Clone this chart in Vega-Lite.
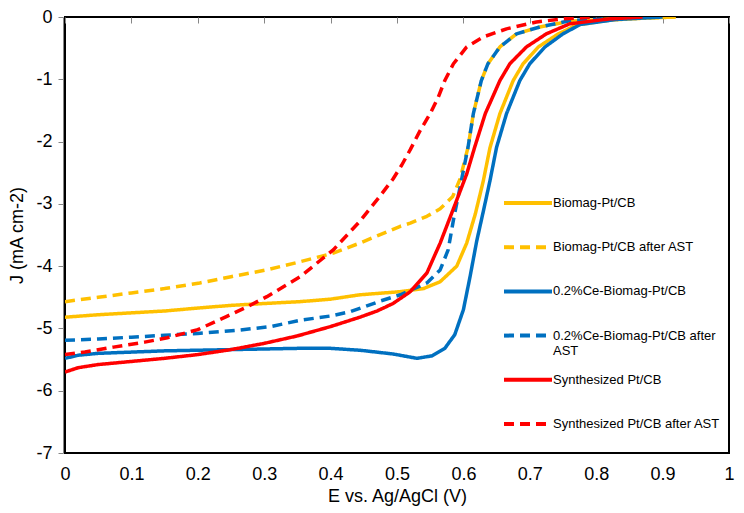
{
  "$schema": "https://vega.github.io/schema/vega-lite/v6.json",
  "width": 664,
  "height": 436,
  "autosize": "none",
  "padding": {"left": 65, "top": 17, "right": 15, "bottom": 60},
  "background": "white",
  "config": {
    "font": "Liberation Sans",
    "view": {"stroke": "#000000", "strokeWidth": 2}
  },
  "data": {"values": [
    {"s":"Biomag-Pt/CB","x":0,"y":-4.82},{"s":"Biomag-Pt/CB","x":0.05,"y":-4.78},{"s":"Biomag-Pt/CB","x":0.1,"y":-4.75},{"s":"Biomag-Pt/CB","x":0.15,"y":-4.72},{"s":"Biomag-Pt/CB","x":0.203,"y":-4.67},{"s":"Biomag-Pt/CB","x":0.25,"y":-4.63},{"s":"Biomag-Pt/CB","x":0.3,"y":-4.6},{"s":"Biomag-Pt/CB","x":0.354,"y":-4.57},{"s":"Biomag-Pt/CB","x":0.4,"y":-4.53},{"s":"Biomag-Pt/CB","x":0.444,"y":-4.46},{"s":"Biomag-Pt/CB","x":0.505,"y":-4.41},{"s":"Biomag-Pt/CB","x":0.54,"y":-4.36},{"s":"Biomag-Pt/CB","x":0.565,"y":-4.25},{"s":"Biomag-Pt/CB","x":0.59,"y":-4.0},{"s":"Biomag-Pt/CB","x":0.605,"y":-3.63},{"s":"Biomag-Pt/CB","x":0.618,"y":-3.16},{"s":"Biomag-Pt/CB","x":0.63,"y":-2.63},{"s":"Biomag-Pt/CB","x":0.64,"y":-2.1},{"s":"Biomag-Pt/CB","x":0.655,"y":-1.55},{"s":"Biomag-Pt/CB","x":0.675,"y":-1.02},{"s":"Biomag-Pt/CB","x":0.69,"y":-0.75},{"s":"Biomag-Pt/CB","x":0.713,"y":-0.48},{"s":"Biomag-Pt/CB","x":0.743,"y":-0.27},{"s":"Biomag-Pt/CB","x":0.77,"y":-0.13},{"s":"Biomag-Pt/CB","x":0.82,"y":-0.05},{"s":"Biomag-Pt/CB","x":0.87,"y":-0.02},{"s":"Biomag-Pt/CB","x":0.92,"y":0},

    {"s":"Biomag-Pt/CB after AST","x":0,"y":-4.57},{"s":"Biomag-Pt/CB after AST","x":0.05,"y":-4.5},{"s":"Biomag-Pt/CB after AST","x":0.1,"y":-4.43},{"s":"Biomag-Pt/CB after AST","x":0.15,"y":-4.36},{"s":"Biomag-Pt/CB after AST","x":0.203,"y":-4.27},{"s":"Biomag-Pt/CB after AST","x":0.25,"y":-4.17},{"s":"Biomag-Pt/CB after AST","x":0.304,"y":-4.06},{"s":"Biomag-Pt/CB after AST","x":0.354,"y":-3.93},{"s":"Biomag-Pt/CB after AST","x":0.404,"y":-3.79},{"s":"Biomag-Pt/CB after AST","x":0.444,"y":-3.63},{"s":"Biomag-Pt/CB after AST","x":0.505,"y":-3.36},{"s":"Biomag-Pt/CB after AST","x":0.52,"y":-3.31},{"s":"Biomag-Pt/CB after AST","x":0.545,"y":-3.2},{"s":"Biomag-Pt/CB after AST","x":0.565,"y":-3.08},{"s":"Biomag-Pt/CB after AST","x":0.584,"y":-2.88},{"s":"Biomag-Pt/CB after AST","x":0.595,"y":-2.6},{"s":"Biomag-Pt/CB after AST","x":0.607,"y":-2.09},{"s":"Biomag-Pt/CB after AST","x":0.615,"y":-1.55},{"s":"Biomag-Pt/CB after AST","x":0.627,"y":-1.02},{"s":"Biomag-Pt/CB after AST","x":0.637,"y":-0.75},{"s":"Biomag-Pt/CB after AST","x":0.655,"y":-0.48},{"s":"Biomag-Pt/CB after AST","x":0.68,"y":-0.27},{"s":"Biomag-Pt/CB after AST","x":0.715,"y":-0.16},{"s":"Biomag-Pt/CB after AST","x":0.76,"y":-0.07},{"s":"Biomag-Pt/CB after AST","x":0.84,"y":-0.02},{"s":"Biomag-Pt/CB after AST","x":0.92,"y":0},

    {"s":"0.2%Ce-Biomag-Pt/CB","x":0,"y":-5.48},{"s":"0.2%Ce-Biomag-Pt/CB","x":0.02,"y":-5.43},{"s":"0.2%Ce-Biomag-Pt/CB","x":0.05,"y":-5.4},{"s":"0.2%Ce-Biomag-Pt/CB","x":0.1,"y":-5.38},{"s":"0.2%Ce-Biomag-Pt/CB","x":0.15,"y":-5.36},{"s":"0.2%Ce-Biomag-Pt/CB","x":0.2,"y":-5.35},{"s":"0.2%Ce-Biomag-Pt/CB","x":0.25,"y":-5.34},{"s":"0.2%Ce-Biomag-Pt/CB","x":0.3,"y":-5.33},{"s":"0.2%Ce-Biomag-Pt/CB","x":0.35,"y":-5.32},{"s":"0.2%Ce-Biomag-Pt/CB","x":0.4,"y":-5.32},{"s":"0.2%Ce-Biomag-Pt/CB","x":0.444,"y":-5.35},{"s":"0.2%Ce-Biomag-Pt/CB","x":0.494,"y":-5.41},{"s":"0.2%Ce-Biomag-Pt/CB","x":0.53,"y":-5.48},{"s":"0.2%Ce-Biomag-Pt/CB","x":0.553,"y":-5.44},{"s":"0.2%Ce-Biomag-Pt/CB","x":0.572,"y":-5.32},{"s":"0.2%Ce-Biomag-Pt/CB","x":0.587,"y":-5.1},{"s":"0.2%Ce-Biomag-Pt/CB","x":0.6,"y":-4.7},{"s":"0.2%Ce-Biomag-Pt/CB","x":0.61,"y":-4.17},{"s":"0.2%Ce-Biomag-Pt/CB","x":0.62,"y":-3.6},{"s":"0.2%Ce-Biomag-Pt/CB","x":0.63,"y":-3.12},{"s":"0.2%Ce-Biomag-Pt/CB","x":0.64,"y":-2.63},{"s":"0.2%Ce-Biomag-Pt/CB","x":0.65,"y":-2.09},{"s":"0.2%Ce-Biomag-Pt/CB","x":0.665,"y":-1.55},{"s":"0.2%Ce-Biomag-Pt/CB","x":0.685,"y":-1.02},{"s":"0.2%Ce-Biomag-Pt/CB","x":0.7,"y":-0.75},{"s":"0.2%Ce-Biomag-Pt/CB","x":0.723,"y":-0.48},{"s":"0.2%Ce-Biomag-Pt/CB","x":0.75,"y":-0.27},{"s":"0.2%Ce-Biomag-Pt/CB","x":0.776,"y":-0.12},{"s":"0.2%Ce-Biomag-Pt/CB","x":0.83,"y":-0.04},{"s":"0.2%Ce-Biomag-Pt/CB","x":0.9,"y":0},

    {"s":"0.2%Ce-Biomag-Pt/CB after AST","x":0,"y":-5.19},{"s":"0.2%Ce-Biomag-Pt/CB after AST","x":0.05,"y":-5.17},{"s":"0.2%Ce-Biomag-Pt/CB after AST","x":0.1,"y":-5.14},{"s":"0.2%Ce-Biomag-Pt/CB after AST","x":0.15,"y":-5.11},{"s":"0.2%Ce-Biomag-Pt/CB after AST","x":0.2,"y":-5.08},{"s":"0.2%Ce-Biomag-Pt/CB after AST","x":0.26,"y":-5.03},{"s":"0.2%Ce-Biomag-Pt/CB after AST","x":0.31,"y":-4.97},{"s":"0.2%Ce-Biomag-Pt/CB after AST","x":0.354,"y":-4.87},{"s":"0.2%Ce-Biomag-Pt/CB after AST","x":0.4,"y":-4.8},{"s":"0.2%Ce-Biomag-Pt/CB after AST","x":0.43,"y":-4.73},{"s":"0.2%Ce-Biomag-Pt/CB after AST","x":0.449,"y":-4.66},{"s":"0.2%Ce-Biomag-Pt/CB after AST","x":0.475,"y":-4.56},{"s":"0.2%Ce-Biomag-Pt/CB after AST","x":0.505,"y":-4.46},{"s":"0.2%Ce-Biomag-Pt/CB after AST","x":0.545,"y":-4.27},{"s":"0.2%Ce-Biomag-Pt/CB after AST","x":0.565,"y":-4.06},{"s":"0.2%Ce-Biomag-Pt/CB after AST","x":0.577,"y":-3.74},{"s":"0.2%Ce-Biomag-Pt/CB after AST","x":0.586,"y":-3.2},{"s":"0.2%Ce-Biomag-Pt/CB after AST","x":0.596,"y":-2.68},{"s":"0.2%Ce-Biomag-Pt/CB after AST","x":0.607,"y":-2.09},{"s":"0.2%Ce-Biomag-Pt/CB after AST","x":0.615,"y":-1.55},{"s":"0.2%Ce-Biomag-Pt/CB after AST","x":0.627,"y":-1.02},{"s":"0.2%Ce-Biomag-Pt/CB after AST","x":0.637,"y":-0.75},{"s":"0.2%Ce-Biomag-Pt/CB after AST","x":0.655,"y":-0.48},{"s":"0.2%Ce-Biomag-Pt/CB after AST","x":0.68,"y":-0.27},{"s":"0.2%Ce-Biomag-Pt/CB after AST","x":0.715,"y":-0.16},{"s":"0.2%Ce-Biomag-Pt/CB after AST","x":0.76,"y":-0.06},{"s":"0.2%Ce-Biomag-Pt/CB after AST","x":0.83,"y":-0.02},{"s":"0.2%Ce-Biomag-Pt/CB after AST","x":0.88,"y":0},

    {"s":"Synthesized Pt/CB","x":0,"y":-5.7},{"s":"Synthesized Pt/CB","x":0.02,"y":-5.63},{"s":"Synthesized Pt/CB","x":0.05,"y":-5.58},{"s":"Synthesized Pt/CB","x":0.1,"y":-5.53},{"s":"Synthesized Pt/CB","x":0.15,"y":-5.48},{"s":"Synthesized Pt/CB","x":0.2,"y":-5.42},{"s":"Synthesized Pt/CB","x":0.25,"y":-5.34},{"s":"Synthesized Pt/CB","x":0.3,"y":-5.24},{"s":"Synthesized Pt/CB","x":0.35,"y":-5.12},{"s":"Synthesized Pt/CB","x":0.4,"y":-4.97},{"s":"Synthesized Pt/CB","x":0.444,"y":-4.82},{"s":"Synthesized Pt/CB","x":0.47,"y":-4.72},{"s":"Synthesized Pt/CB","x":0.494,"y":-4.6},{"s":"Synthesized Pt/CB","x":0.52,"y":-4.41},{"s":"Synthesized Pt/CB","x":0.545,"y":-4.11},{"s":"Synthesized Pt/CB","x":0.565,"y":-3.63},{"s":"Synthesized Pt/CB","x":0.586,"y":-3.05},{"s":"Synthesized Pt/CB","x":0.605,"y":-2.52},{"s":"Synthesized Pt/CB","x":0.617,"y":-2.09},{"s":"Synthesized Pt/CB","x":0.633,"y":-1.55},{"s":"Synthesized Pt/CB","x":0.655,"y":-1.02},{"s":"Synthesized Pt/CB","x":0.67,"y":-0.75},{"s":"Synthesized Pt/CB","x":0.695,"y":-0.48},{"s":"Synthesized Pt/CB","x":0.725,"y":-0.27},{"s":"Synthesized Pt/CB","x":0.76,"y":-0.11},{"s":"Synthesized Pt/CB","x":0.82,"y":-0.03},{"s":"Synthesized Pt/CB","x":0.87,"y":0},

    {"s":"Synthesized Pt/CB after AST","x":0,"y":-5.42},{"s":"Synthesized Pt/CB after AST","x":0.03,"y":-5.38},{"s":"Synthesized Pt/CB after AST","x":0.073,"y":-5.3},{"s":"Synthesized Pt/CB after AST","x":0.12,"y":-5.22},{"s":"Synthesized Pt/CB after AST","x":0.154,"y":-5.15},{"s":"Synthesized Pt/CB after AST","x":0.2,"y":-5.02},{"s":"Synthesized Pt/CB after AST","x":0.243,"y":-4.81},{"s":"Synthesized Pt/CB after AST","x":0.275,"y":-4.65},{"s":"Synthesized Pt/CB after AST","x":0.304,"y":-4.49},{"s":"Synthesized Pt/CB after AST","x":0.354,"y":-4.17},{"s":"Synthesized Pt/CB after AST","x":0.404,"y":-3.74},{"s":"Synthesized Pt/CB after AST","x":0.444,"y":-3.28},{"s":"Synthesized Pt/CB after AST","x":0.474,"y":-2.88},{"s":"Synthesized Pt/CB after AST","x":0.494,"y":-2.6},{"s":"Synthesized Pt/CB after AST","x":0.507,"y":-2.38},{"s":"Synthesized Pt/CB after AST","x":0.52,"y":-2.13},{"s":"Synthesized Pt/CB after AST","x":0.535,"y":-1.82},{"s":"Synthesized Pt/CB after AST","x":0.55,"y":-1.55},{"s":"Synthesized Pt/CB after AST","x":0.562,"y":-1.29},{"s":"Synthesized Pt/CB after AST","x":0.572,"y":-1.02},{"s":"Synthesized Pt/CB after AST","x":0.585,"y":-0.75},{"s":"Synthesized Pt/CB after AST","x":0.605,"y":-0.48},{"s":"Synthesized Pt/CB after AST","x":0.63,"y":-0.32},{"s":"Synthesized Pt/CB after AST","x":0.665,"y":-0.19},{"s":"Synthesized Pt/CB after AST","x":0.71,"y":-0.08},{"s":"Synthesized Pt/CB after AST","x":0.75,"y":-0.03},{"s":"Synthesized Pt/CB after AST","x":0.8,"y":0}
  ]},
  "resolve": {"axis": {"x": "independent"}},
  "layer": [
    {
      "mark": {"type": "line", "strokeWidth": 3.5, "strokeCap": "butt", "strokeJoin": "round", "clip": true},
      "encoding": {
        "x": {
          "field": "x", "type": "quantitative",
          "scale": {"domain": [0, 1], "nice": false, "zero": false},
          "axis": {
            "values": [0, 0.1, 0.2, 0.3, 0.4, 0.5, 0.6, 0.7, 0.8, 0.9, 1],
            "format": "~g",
            "orient": "bottom",
            "grid": false, "domain": false, "ticks": false,
            "labelFontSize": 18, "labelColor": "#000000", "labelPadding": 12,
            "labelFlush": false,
            "title": "E vs. Ag/AgCl (V)",
            "titleFontSize": 18, "titleFontWeight": "normal", "titleColor": "#000000", "titlePadding": 4
          }
        },
        "y": {
          "field": "y", "type": "quantitative",
          "scale": {"domain": [-7, 0], "nice": false, "zero": false},
          "axis": {
            "values": [0, -1, -2, -3, -4, -5, -6, -7],
            "labelExpr": "datum.value == 0 ? '0' : '-' + abs(datum.value)",
            "offset": 2,
            "grid": false, "domain": true, "domainColor": "#868686", "domainWidth": 1,
            "ticks": true, "tickColor": "#868686", "tickSize": 5, "tickWidth": 1,
            "labelFontSize": 18, "labelColor": "#000000", "labelPadding": 6,
            "title": "J (mA cm-2)",
            "titleFontSize": 18, "titleFontWeight": "normal", "titleColor": "#000000", "titlePadding": 9
          }
        },
        "color": {
          "field": "s", "type": "nominal",
          "scale": {
            "domain": ["Biomag-Pt/CB", "Biomag-Pt/CB after AST", "0.2%Ce-Biomag-Pt/CB", "0.2%Ce-Biomag-Pt/CB after AST", "Synthesized Pt/CB", "Synthesized Pt/CB after AST"],
            "range": ["#FFC000", "#FFC000", "#0070C0", "#0070C0", "#FF0000", "#FF0000"]
          },
          "legend": {
            "title": null,
            "orient": "none",
            "legendX": 449,
            "legendY": 172,
            "symbolType": "M-2,0H2",
            "symbolSize": 576,
            "symbolStrokeWidth": 4,
            "symbolFillColor": "transparent",
            "labelFontSize": 13,
            "labelColor": "#000000",
            "labelOffset": 11,
            "labelLimit": 300,
            "rowPadding": 8.2,
            "padding": 0,
            "labelExpr": "datum.label == '0.2%Ce-Biomag-Pt/CB after AST' ? ['0.2%Ce-Biomag-Pt/CB after', 'AST'] : [datum.label, ' ']"
          }
        },
        "strokeDash": {
          "field": "s", "type": "nominal",
          "scale": {
            "domain": ["Biomag-Pt/CB", "Biomag-Pt/CB after AST", "0.2%Ce-Biomag-Pt/CB", "0.2%Ce-Biomag-Pt/CB after AST", "Synthesized Pt/CB", "Synthesized Pt/CB after AST"],
            "range": [[1, 0], [10, 6], [1, 0], [10, 6], [1, 0], [10, 6]]
          }
        },
        "order": {"field": "x", "type": "quantitative"}
      }
    },
    {
      "mark": {"type": "point", "opacity": 0},
      "encoding": {
        "x": {
          "field": "x", "type": "quantitative",
          "axis": {
            "orient": "top",
            "values": [0, 0.1, 0.2, 0.3, 0.4, 0.5, 0.6, 0.7, 0.8, 0.9, 1],
            "labels": false, "title": null, "grid": false,
            "domain": false, "ticks": true, "tickColor": "#868686", "tickSize": -6, "tickWidth": 1
          }
        },
        "y": {"field": "y", "type": "quantitative"}
      }
    }
  ]
}
